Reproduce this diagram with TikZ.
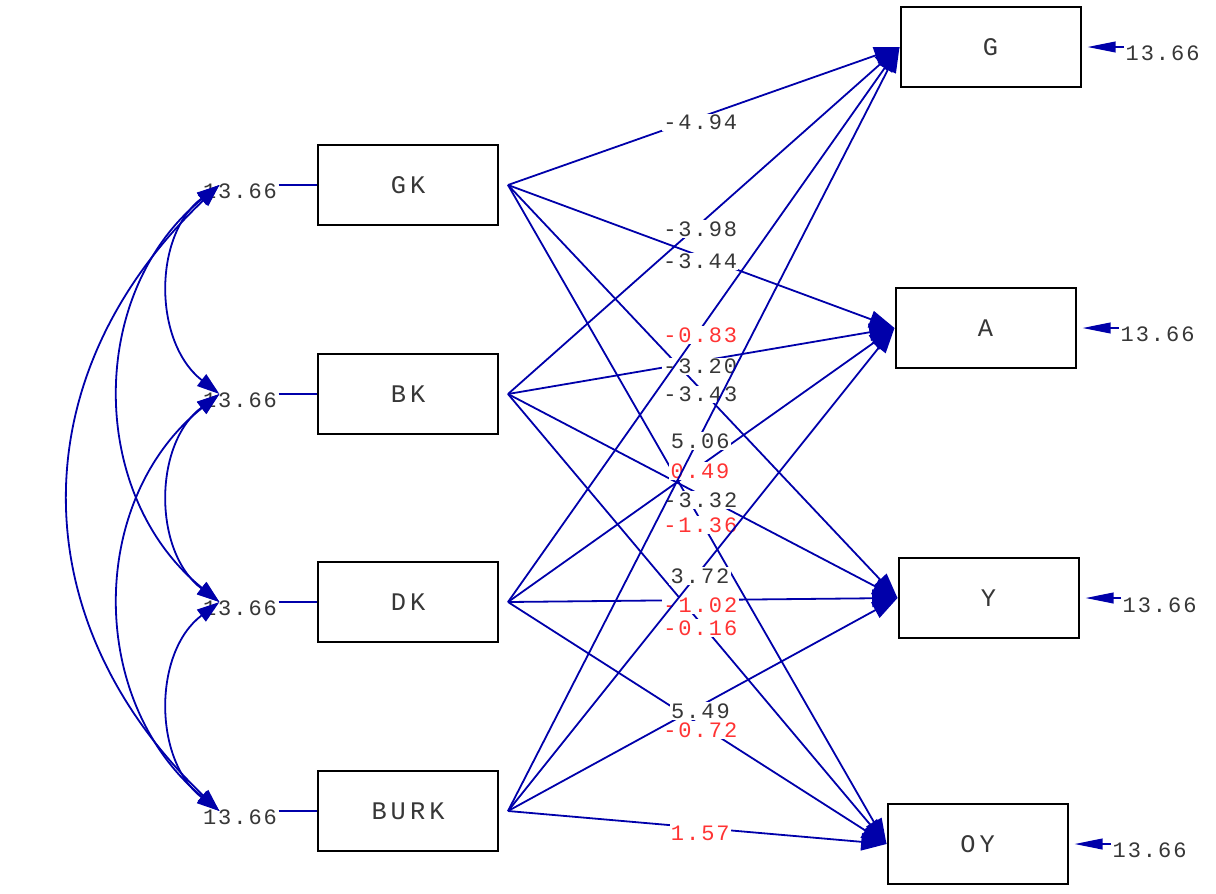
\documentclass[tikz,border=0pt]{standalone}
\usepackage{fontspec}
\newfontfamily\labfont[LetterSpace=9]{Liberation Mono}
\newfontfamily\boxfont[LetterSpace=16]{Liberation Mono}
\usetikzlibrary{arrows.meta,calc}
\definecolor{pathblue}{RGB}{0,0,170}
\definecolor{labgray}{RGB}{55,55,55}
\definecolor{labred}{RGB}{255,51,51}
\begin{document}
\begin{tikzpicture}[x=0.75pt,y=-0.75pt,
  varbox/.style={draw=black,line width=1.5pt,fill=white,minimum width=135pt,minimum height=60pt,inner sep=0pt,
    font=\boxfont\fontsize{19}{20}\selectfont,text=labgray},
  pathline/.style={draw=pathblue,line width=1.35pt,-{Triangle[length=19pt,width=13pt]}},
  covline/.style={draw=pathblue,line width=1.35pt,{Triangle[length=17pt,width=11pt]}-{Triangle[length=17pt,width=11pt]}},
  errline/.style={draw=pathblue,line width=1.35pt,-{Triangle[length=21pt,width=8pt]}},
  plainline/.style={draw=pathblue,line width=1.35pt},
  lab/.style={fill=white,inner sep=1pt,font=\labfont\fontsize{16.5}{18}\selectfont},
]
\useasboundingbox (0,0) rectangle (1216,893);
% boxes
\node[varbox] (GK) at (408,185) {\raisebox{-3pt}{GK}};
\node[varbox] (BK) at (408,394) {\raisebox{-3pt}{BK}};
\node[varbox] (DK) at (408,602) {\raisebox{-3pt}{DK}};
\node[varbox] (BURK) at (408,811) {\raisebox{-3pt}{BURK}};
\node[varbox] (G) at (990.5,47) {\raisebox{-3pt}{G}};
\node[varbox] (A) at (985.5,328) {\raisebox{-3pt}{A}};
\node[varbox] (Y) at (988.5,598) {\raisebox{-3pt}{Y}};
\node[varbox] (OY) at (977.5,844) {\raisebox{-3pt}{OY}};
% path origins
\foreach \n in {GK,BK,DK,BURK}{
  \coordinate (\n o) at ($(\n.east)+(9,0)$);
}
% left variance labels
\foreach \n/\yy in {GK/191,BK/400,DK/608,BURK/817}{
  \node[lab,text=labgray] (\n v) at (240,\yy) {13.66};
  \draw[plainline] (\n v.east |- \n) -- (\n.west);
  \coordinate (\n c) at ($(\n v.west |- \n)+(18,0)$);
}
% covariance curves
\draw[covline] (GKc) .. controls (153,235) and (153,342) .. (BKc);
\draw[covline] (BKc) .. controls (153,444) and (153,552) .. (DKc);
\draw[covline] (DKc) .. controls (153,652) and (153,760) .. (BURKc);
\draw[covline] (GKc) .. controls (87,292) and (87,495) .. (DKc);
\draw[covline] (BKc) .. controls (87,500) and (87,702) .. (BURKc);
\draw[covline] (GKc) .. controls (20,375) and (20,620) .. (BURKc);
% structural paths
\foreach \s/\t/\v/\c/\p in {
  GK/G/-4.94/labgray/0.491, GK/A/-3.44/labgray/0.497, GK/Y/-3.43/labgray/0.494, GK/OY/-1.36/labred/0.508,
  BK/G/-3.98/labgray/0.491, BK/A/-3.20/labgray/0.497, BK/Y/-3.32/labgray/0.494, BK/OY/-0.16/labred/0.508,
  DK/G/-0.83/labred/0.491, DK/A/0.49/labred/0.497, DK/Y/-1.02/labred/0.494, DK/OY/-0.72/labred/0.508,
  BURK/G/5.06/labgray/0.491, BURK/A/3.72/labgray/0.497, BURK/Y/5.49/labgray/0.494, BURK/OY/1.57/labred/0.508}{
  \draw[pathline] (\s o) -- node[lab,text=\c,pos=\p,yshift=-4pt] {\v} (\t.west);
}
% error terms
\foreach \n/\xx/\yy in {G/1124/53,A/1119/334,Y/1121/605,OY/1111/850}{
  \node[lab,text=labgray,anchor=west,fill=none] (\n v) at (\xx,\yy) {13.66};
  \coordinate (\n t) at ($(\n.east)+(6,0)$);
  \draw[errline] (\n v.west |- \n) -- (\n t);
}
\end{tikzpicture}
\end{document}
